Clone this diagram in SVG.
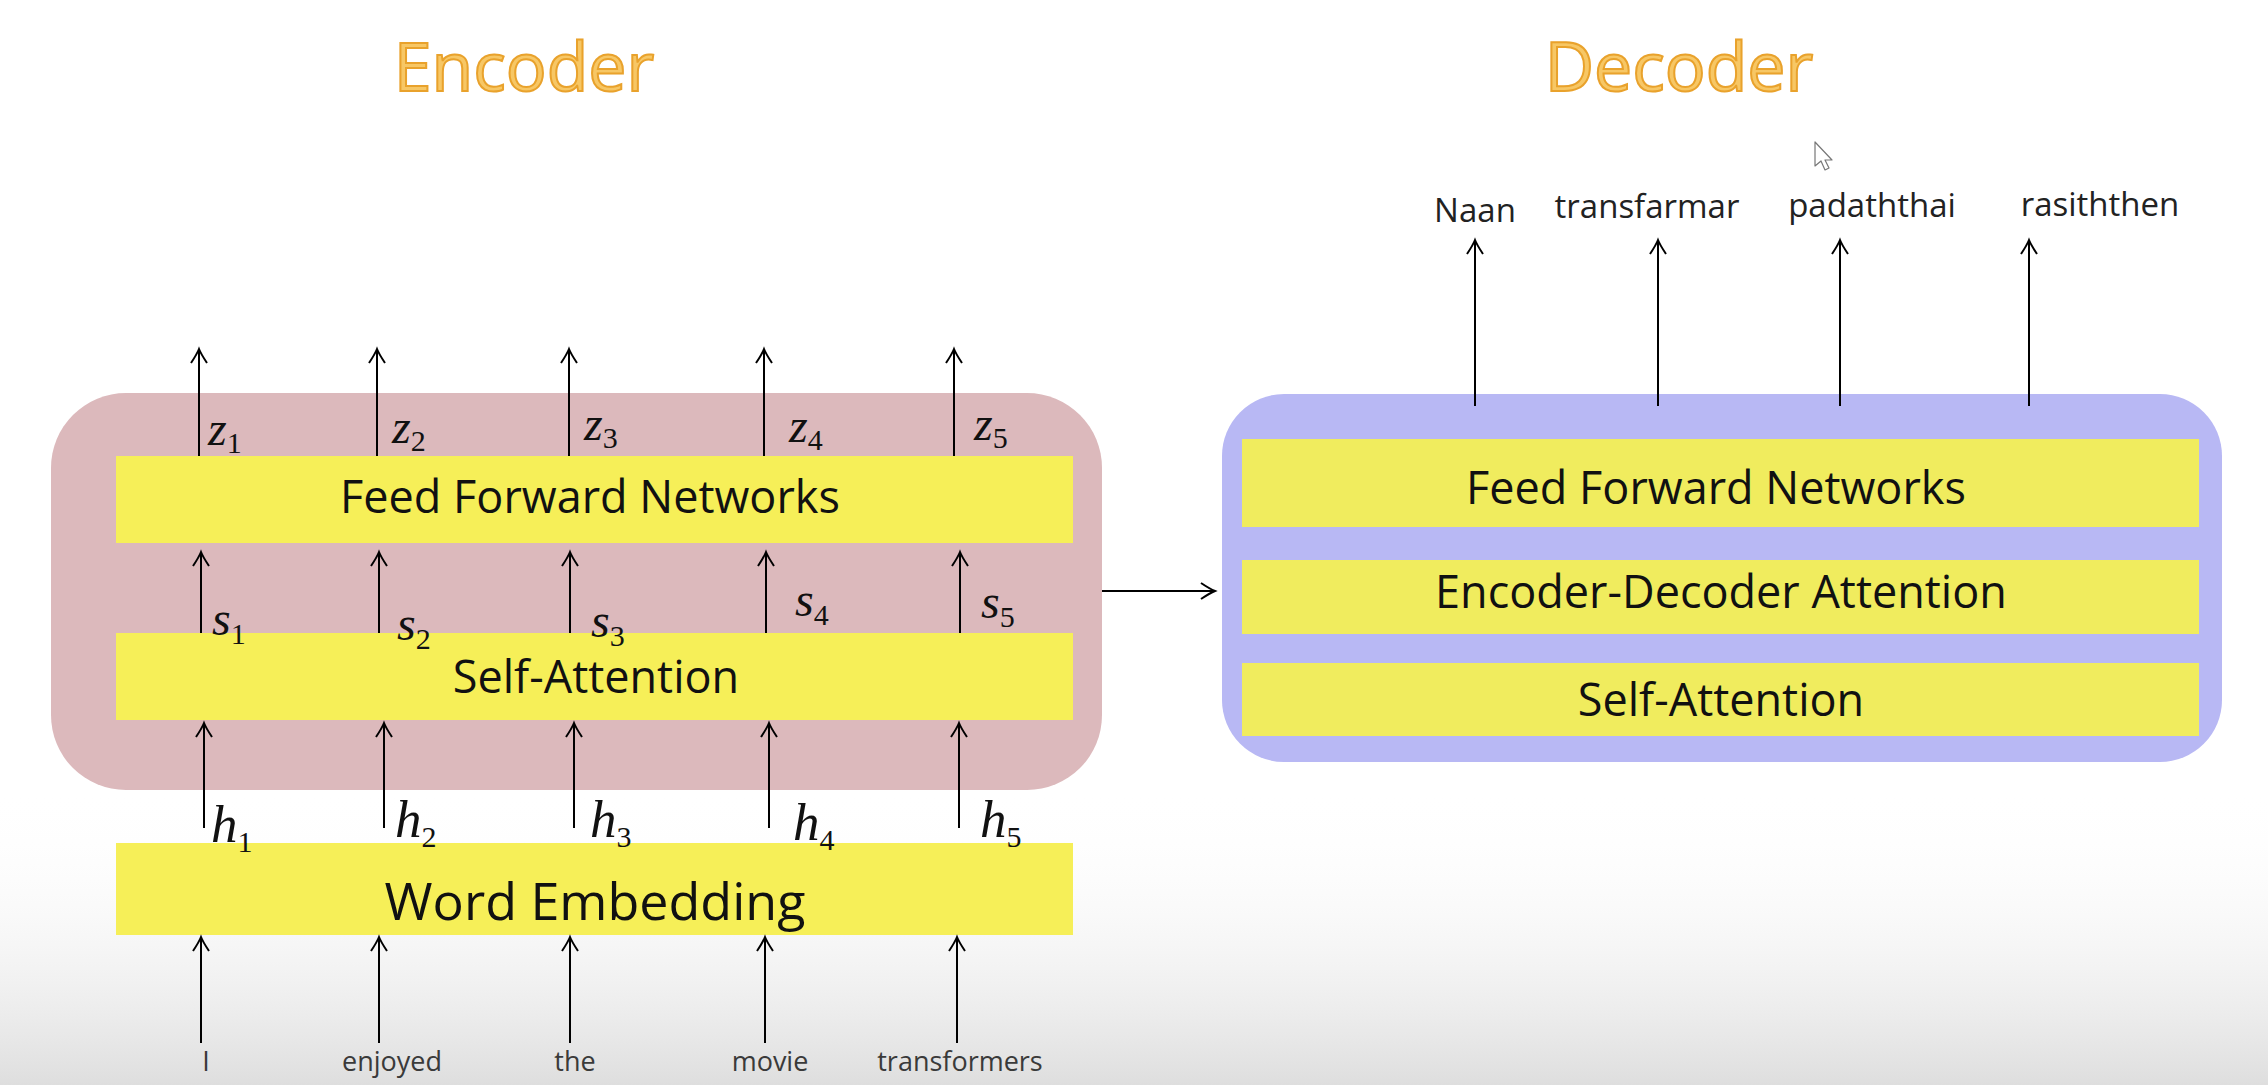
<svg xmlns="http://www.w3.org/2000/svg" width="2268" height="1085" viewBox="0 0 2268 1085">
<style>
.title{font-family:"Open Sans","Noto Sans",sans-serif;font-size:68px;fill:#f7c765;stroke:#e9a22c;stroke-width:2;text-anchor:middle;}
.bar{font-family:"Open Sans","Noto Sans",sans-serif;font-size:45px;fill:#111;text-anchor:middle;}
.word{font-family:"Open Sans","Noto Sans",sans-serif;font-size:27px;fill:#3a3a3a;text-anchor:middle;}
.out{font-family:"Open Sans","Noto Sans",sans-serif;font-size:33px;fill:#222;text-anchor:middle;}
.math{font-family:"Liberation Serif","Times New Roman",serif;font-style:italic;font-size:48px;fill:#111;}
.mathh{font-family:"Liberation Serif","Times New Roman",serif;font-style:italic;font-size:53px;fill:#111;}
.sub{font-style:normal;font-size:30px;}
.yel{fill:#f6ef58;}
.dyel{fill:#f0ec5e;}
.arr{stroke:#000;stroke-width:2;fill:none;marker-end:url(#ah);}
</style>
<defs>
<marker id="ah" markerUnits="userSpaceOnUse" viewBox="-16 -10 18 20" markerWidth="18" markerHeight="20" refX="0" refY="0" orient="auto" overflow="visible">
<path d="M -14,-8 Q -5,-2 0,0 Q -5,2 -14,8" fill="none" stroke="#000" stroke-width="2"/>
</marker>
<linearGradient id="bg" x1="0" y1="0" x2="0" y2="1">
<stop offset="0" stop-color="#ffffff" stop-opacity="0"/>
<stop offset="1" stop-color="#dedede"/>
</linearGradient>
</defs>
<rect x="0" y="0" width="2268" height="1085" fill="#ffffff"/>
<rect x="0" y="790" width="2268" height="295" fill="url(#bg)"/>

<g id="title-encoder"><text class="title" x="524" y="91">Encoder</text></g>
<g id="title-decoder"><text class="title" x="1679" y="91">Decoder</text></g>

<g id="encoder">
<rect x="51" y="393" width="1051" height="397" rx="75" ry="75" fill="#dcb9bc"/>
<g id="enc-ffn"><rect class="yel" x="116" y="456" width="957" height="87"/><text class="bar" x="590" y="513">Feed Forward Networks</text></g>
<g id="enc-sa"><rect class="yel" x="116" y="633" width="957" height="87"/><text class="bar" x="596" y="693">Self-Attention</text></g>
</g>

<g id="word-embedding"><rect class="yel" x="116" y="843" width="957" height="92"/><text class="bar" style="font-size:52px" x="595" y="920">Word Embedding</text></g>

<g id="decoder">
<rect x="1222" y="394" width="1000" height="368" rx="62" ry="62" fill="#b8b8f4"/>
<g id="dec-ffn"><rect class="dyel" x="1242" y="439" width="957" height="88"/><text class="bar" x="1716" y="504">Feed Forward Networks</text></g>
<g id="dec-eda"><rect class="dyel" x="1242" y="560" width="957" height="74"/><text class="bar" x="1721" y="608">Encoder-Decoder Attention</text></g>
<g id="dec-sa"><rect class="dyel" x="1242" y="663" width="957" height="73"/><text class="bar" x="1721" y="716">Self-Attention</text></g>
</g>

<g id="inputs">
<text class="word" x="206" y="1071">I</text>
<text class="word" x="392" y="1071">enjoyed</text>
<text class="word" x="575" y="1071">the</text>
<text class="word" x="770" y="1071">movie</text>
<text class="word" x="960" y="1071">transformers</text>
</g>

<g id="outputs">
<text class="out" x="1475" y="222">Naan</text>
<text class="out" x="1647" y="218">transfarmar</text>
<text class="out" x="1872" y="217">padaththai</text>
<text class="out" x="2100" y="216">rasiththen</text>
</g>

<g id="connectors">
<line class="arr" x1="201" y1="1043" x2="201" y2="937"/>
<line class="arr" x1="379" y1="1043" x2="379" y2="937"/>
<line class="arr" x1="570" y1="1043" x2="570" y2="937"/>
<line class="arr" x1="765" y1="1043" x2="765" y2="937"/>
<line class="arr" x1="957" y1="1043" x2="957" y2="937"/>

<line class="arr" x1="204" y1="828" x2="204" y2="723"/>
<line class="arr" x1="384" y1="828" x2="384" y2="723"/>
<line class="arr" x1="574" y1="828" x2="574" y2="723"/>
<line class="arr" x1="769" y1="828" x2="769" y2="723"/>
<line class="arr" x1="959" y1="828" x2="959" y2="723"/>

<line class="arr" x1="201" y1="633" x2="201" y2="552"/>
<line class="arr" x1="379" y1="633" x2="379" y2="552"/>
<line class="arr" x1="570" y1="633" x2="570" y2="552"/>
<line class="arr" x1="766" y1="633" x2="766" y2="552"/>
<line class="arr" x1="960" y1="633" x2="960" y2="552"/>

<line class="arr" x1="199" y1="456" x2="199" y2="349"/>
<line class="arr" x1="377" y1="456" x2="377" y2="349"/>
<line class="arr" x1="569" y1="456" x2="569" y2="349"/>
<line class="arr" x1="764" y1="456" x2="764" y2="349"/>
<line class="arr" x1="954" y1="456" x2="954" y2="349"/>

<line class="arr" x1="1102" y1="591" x2="1215" y2="591"/>

<line class="arr" x1="1475" y1="406" x2="1475" y2="240"/>
<line class="arr" x1="1658" y1="406" x2="1658" y2="240"/>
<line class="arr" x1="1840" y1="406" x2="1840" y2="240"/>
<line class="arr" x1="2029" y1="406" x2="2029" y2="240"/>

<text class="mathh" x="211" y="842">h<tspan class="sub" dy="10">1</tspan></text>
<text class="mathh" x="395" y="837">h<tspan class="sub" dy="10">2</tspan></text>
<text class="mathh" x="590" y="837">h<tspan class="sub" dy="10">3</tspan></text>
<text class="mathh" x="793" y="840">h<tspan class="sub" dy="10">4</tspan></text>
<text class="mathh" x="980" y="837">h<tspan class="sub" dy="10">5</tspan></text>

<text class="math" x="212" y="635">s<tspan class="sub" dy="9">1</tspan></text>
<text class="math" x="397" y="640">s<tspan class="sub" dy="9">2</tspan></text>
<text class="math" x="591" y="637">s<tspan class="sub" dy="9">3</tspan></text>
<text class="math" x="795" y="616">s<tspan class="sub" dy="9">4</tspan></text>
<text class="math" x="981" y="618">s<tspan class="sub" dy="9">5</tspan></text>

<text class="math" x="208" y="445">z<tspan class="sub" dy="8">1</tspan></text>
<text class="math" x="392" y="443">z<tspan class="sub" dy="8">2</tspan></text>
<text class="math" x="584" y="440">z<tspan class="sub" dy="8">3</tspan></text>
<text class="math" x="789" y="442">z<tspan class="sub" dy="8">4</tspan></text>
<text class="math" x="974" y="440">z<tspan class="sub" dy="8">5</tspan></text>
</g>

<g id="cursor">
<path d="M1815,142 L1815,166 L1821,161 L1825,170 L1829,168 L1825,160 L1832,160 Z" fill="#ffffff" stroke="#777" stroke-width="1.2" stroke-linejoin="round"/>
</g>
</svg>
